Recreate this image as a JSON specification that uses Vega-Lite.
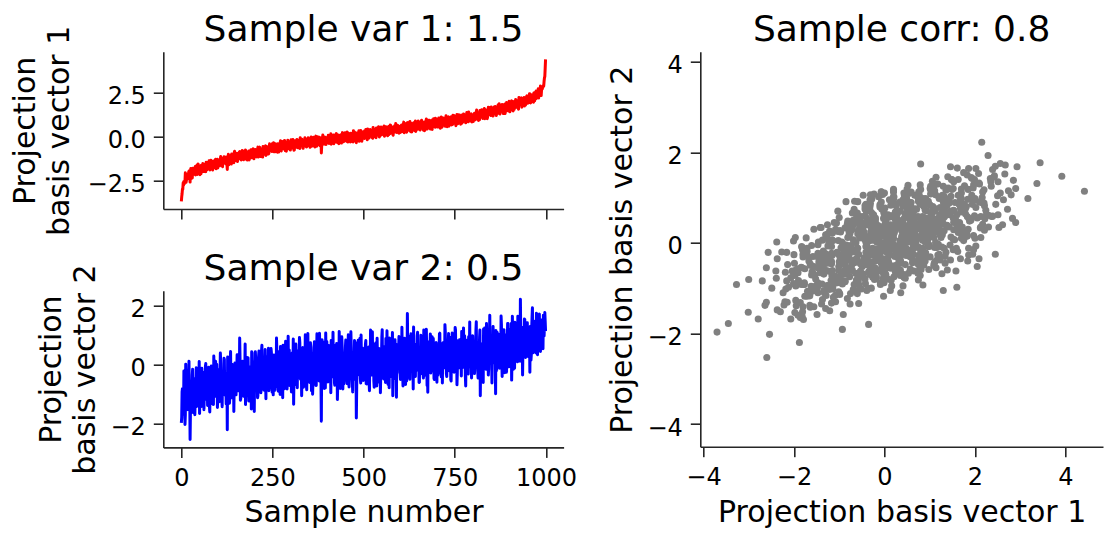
{
"$schema": "https://vega.github.io/schema/vega-lite/v6.json",
"autosize": {"type": "none"},
"padding": {"left": 163.3, "top": 51.7, "right": 952.7, "bottom": 487.3},
"background": "white",
"data": {"values": [
{"i":0,"a":-3.70,"b":-1.97},{"i":1,"a":-3.45,"b":-1.78},{"i":2,"a":-3.27,"b":-0.92},{"i":3,"a":-3.00,"b":-0.81},{"i":4,"a":-3.01,"b":-1.53},{"i":5,"a":-2.64,"b":-1.38},{"i":6,"a":-2.79,"b":-1.68},{"i":8,"a":-2.70,"b":-0.84},{"i":10,"a":-2.54,"b":-2.02},{"i":12,"a":-2.38,"b":0.02},{"i":14,"a":-2.49,"b":-1.00},{"i":16,"a":-2.27,"b":-0.20},{"i":18,"a":-2.30,"b":-1.52},
{"i":20,"a":-2.04,"b":-0.62},{"i":22,"a":-2.37,"b":-1.48},{"i":24,"a":-2.60,"b":-2.53},{"i":26,"a":-1.82,"b":-0.55},{"i":28,"a":-2.20,"b":-1.30},{"i":30,"a":-2.37,"b":-0.35},{"i":32,"a":-1.82,"b":-1.62},{"i":34,"a":-1.96,"b":-0.95},{"i":36,"a":-2.14,"b":-0.48},{"i":38,"a":-1.71,"b":-1.18},
{"i":40,"a":-1.98,"b":-0.72},{"i":42,"a":-1.80,"b":-1.41},{"i":44,"a":-2.16,"b":-0.21},{"i":46,"a":-1.56,"b":-1.05},{"i":48,"a":-1.96,"b":-0.60},{"i":50,"a":-1.86,"b":-1.65},{"i":52,"a":-1.67,"b":-0.33},{"i":54,"a":-2.12,"b":-0.98},{"i":56,"a":-1.71,"b":-0.12},{"i":58,"a":-1.96,"b":-1.27},
{"i":60,"a":-1.56,"b":-0.70},{"i":62,"a":-1.81,"b":-1.52},{"i":64,"a":-1.99,"b":-0.45},{"i":66,"a":-1.61,"b":-0.06},{"i":68,"a":-1.47,"b":-1.10},{"i":70,"a":-1.90,"b":-0.83},{"i":72,"a":-1.65,"b":-1.38},{"i":74,"a":-1.80,"b":-0.25},{"i":76,"a":-1.38,"b":-0.91},{"i":78,"a":-1.91,"b":-1.60},
{"i":80,"a":-1.63,"b":-0.50},{"i":82,"a":-1.47,"b":-0.04},{"i":84,"a":-1.76,"b":-1.18},{"i":86,"a":-1.91,"b":-0.66},{"i":88,"a":-1.39,"b":-1.35},{"i":90,"a":-1.49,"b":-0.30},{"i":92,"a":-1.77,"b":-0.88},{"i":94,"a":-1.29,"b":0.12},{"i":96,"a":-1.60,"b":-1.07},{"i":98,"a":-1.48,"b":-0.55},
{"i":100,"a":-1.79,"b":-0.92},{"i":102,"a":-1.35,"b":-0.18},{"i":104,"a":-1.37,"b":-1.25},{"i":106,"a":-1.64,"b":-0.47},{"i":108,"a":-1.14,"b":0.05},{"i":110,"a":-1.52,"b":-0.80},{"i":112,"a":-1.64,"b":-1.42},{"i":114,"a":-1.23,"b":-0.35},{"i":116,"a":-1.42,"b":-0.66},{"i":118,"a":-1.30,"b":0.18},
{"i":120,"a":-1.22,"b":-1.03},{"i":122,"a":-1.56,"b":-0.52},{"i":124,"a":-1.26,"b":-0.94},{"i":126,"a":-1.88,"b":-2.20},{"i":128,"a":-1.43,"b":-0.28},{"i":130,"a":-1.61,"b":-0.71},{"i":132,"a":-1.08,"b":-1.30},{"i":134,"a":-1.23,"b":0.02},{"i":136,"a":-1.42,"b":-0.60},{"i":138,"a":-0.99,"b":-1.12},
{"i":140,"a":-1.27,"b":-0.40},{"i":142,"a":-1.08,"b":-0.85},{"i":144,"a":-1.49,"b":-1.58},{"i":146,"a":-0.84,"b":-0.15},{"i":148,"a":-1.25,"b":-0.62},{"i":150,"a":-1.14,"b":-1.02},{"i":152,"a":-0.95,"b":-0.30},{"i":154,"a":-1.42,"b":0.34},{"i":156,"a":-1.01,"b":-0.77},{"i":158,"a":-1.26,"b":-0.45},
{"i":160,"a":-0.85,"b":0.91},{"i":162,"a":-1.13,"b":-1.20},{"i":164,"a":-1.33,"b":-0.38},{"i":166,"a":-0.95,"b":-0.70},{"i":168,"a":-0.81,"b":0.12},{"i":170,"a":-1.26,"b":-0.95},{"i":172,"a":-1.01,"b":-0.52},{"i":174,"a":-1.17,"b":-0.23},{"i":176,"a":-0.76,"b":-1.35},{"i":178,"a":-1.29,"b":-0.61},
{"i":180,"a":-1.03,"b":0.25},{"i":182,"a":-0.87,"b":-0.84},{"i":184,"a":-1.17,"b":-0.41},{"i":186,"a":-1.33,"b":-1.10},{"i":188,"a":-0.81,"b":-0.17},{"i":190,"a":-0.93,"b":-0.66},{"i":192,"a":-1.21,"b":-1.50},{"i":194,"a":-0.74,"b":0.40},{"i":196,"a":-1.06,"b":-0.88},{"i":198,"a":-0.94,"b":-0.35},
{"i":200,"a":-0.91,"b":-1.58},{"i":202,"a":-1.00,"b":-0.42},{"i":204,"a":-0.78,"b":0.15},{"i":206,"a":-1.16,"b":-0.73},{"i":208,"a":-1.02,"b":-0.25},{"i":210,"a":-0.60,"b":-1.05},{"i":212,"a":-1.08,"b":0.30},{"i":214,"a":-0.78,"b":-0.55},{"i":216,"a":-0.73,"b":-0.12},{"i":218,"a":-1.14,"b":-0.95},
{"i":220,"a":-0.81,"b":0.48},{"i":222,"a":-0.90,"b":-0.36},{"i":224,"a":-0.57,"b":-0.78},{"i":226,"a":-1.02,"b":0.05},{"i":228,"a":-0.71,"b":-0.60},{"i":230,"a":-0.58,"b":0.52},{"i":232,"a":-1.08,"b":-1.15},{"i":234,"a":-0.90,"b":-0.20},{"i":236,"a":-0.58,"b":0.28},{"i":238,"a":-0.72,"b":-0.48},
{"i":240,"a":-0.96,"b":-0.88},{"i":242,"a":-0.41,"b":0.10},{"i":244,"a":-0.81,"b":-0.30},{"i":246,"a":-0.62,"b":0.55},{"i":248,"a":-0.85,"b":-0.68},{"i":250,"a":-0.39,"b":-0.05},{"i":252,"a":-0.51,"b":-1.02},{"i":254,"a":-0.87,"b":0.33},{"i":256,"a":-0.67,"b":-0.44},{"i":258,"a":-0.40,"b":0.02},
{"i":260,"a":-0.77,"b":-0.75},{"i":262,"a":-0.50,"b":0.45},{"i":264,"a":-0.89,"b":-0.18},{"i":266,"a":-0.42,"b":-0.90},{"i":268,"a":-0.59,"b":0.20},{"i":270,"a":-0.67,"b":-0.38},{"i":272,"a":-0.24,"b":0.62},{"i":274,"a":-0.82,"b":-0.65},{"i":276,"a":-0.44,"b":0.08},{"i":278,"a":-0.60,"b":-1.12},
{"i":280,"a":-0.30,"b":-0.27},{"i":282,"a":-0.70,"b":0.38},{"i":284,"a":-0.49,"b":-0.50},{"i":286,"a":-0.32,"b":0.80},{"i":288,"a":-0.83,"b":-0.15},{"i":290,"a":-0.62,"b":-0.82},{"i":292,"a":-0.20,"b":0.15},{"i":294,"a":-0.40,"b":-0.40},{"i":296,"a":-0.69,"b":0.50},{"i":298,"a":-0.32,"b":-0.60},
{"i":300,"a":-0.32,"b":0.05},{"i":302,"a":-0.67,"b":-0.92},{"i":304,"a":-0.38,"b":0.40},{"i":306,"a":-0.16,"b":-0.30},{"i":308,"a":-0.57,"b":-1.34},{"i":310,"a":-0.76,"b":0.22},{"i":312,"a":-0.24,"b":-0.55},{"i":314,"a":-0.40,"b":0.70},{"i":316,"a":-0.60,"b":-0.12},{"i":318,"a":-0.18,"b":-0.78},
{"i":320,"a":-0.47,"b":0.35},{"i":322,"a":-0.29,"b":-0.25},{"i":324,"a":-0.66,"b":0.92},{"i":326,"a":-0.07,"b":-0.45},{"i":328,"a":-0.48,"b":0.12},{"i":330,"a":-0.39,"b":-1.05},{"i":332,"a":-0.20,"b":0.55},{"i":334,"a":-0.67,"b":-0.20},{"i":336,"a":-0.26,"b":0.30},{"i":338,"a":-0.52,"b":-0.68},
{"i":340,"a":-0.13,"b":1.02},{"i":342,"a":-0.38,"b":-0.10},{"i":344,"a":-0.58,"b":-0.85},{"i":346,"a":-0.20,"b":0.45},{"i":348,"a":-0.07,"b":-0.35},{"i":350,"a":-0.51,"b":0.18},{"i":352,"a":-0.27,"b":-0.60},{"i":354,"a":-0.43,"b":0.75},{"i":356,"a":-0.02,"b":-0.18},{"i":358,"a":-0.55,"b":0.38},
{"i":360,"a":-0.29,"b":-1.00},{"i":362,"a":-0.13,"b":0.08},{"i":364,"a":-0.43,"b":0.60},{"i":366,"a":-0.59,"b":-0.42},{"i":368,"a":-0.07,"b":0.25},{"i":370,"a":-0.19,"b":-0.70},{"i":372,"a":-0.47,"b":1.05},{"i":374,"a":-0.01,"b":-0.05},{"i":376,"a":-0.32,"b":0.48},{"i":378,"a":-0.21,"b":-0.55},
{"i":380,"a":-0.52,"b":0.15},{"i":382,"a":-0.10,"b":-0.32},{"i":384,"a":-0.93,"b":-1.91},{"i":386,"a":-0.41,"b":0.85},{"i":388,"a":0.09,"b":-0.25},{"i":390,"a":-0.30,"b":0.40},{"i":392,"a":-0.43,"b":-0.80},{"i":394,"a":-0.03,"b":0.22},{"i":396,"a":-0.23,"b":1.08},{"i":398,"a":-0.12,"b":-0.15},
{"i":400,"a":-0.11,"b":0.32},{"i":402,"a":-0.20,"b":-0.58},{"i":404,"a":0.00,"b":0.65},{"i":406,"a":-0.38,"b":-0.22},{"i":408,"a":-0.25,"b":0.10},{"i":410,"a":0.16,"b":-0.95},{"i":412,"a":-0.33,"b":0.48},{"i":414,"a":-0.03,"b":-0.35},{"i":416,"a":0.00,"b":1.10},{"i":418,"a":-0.41,"b":-0.08},
{"i":420,"a":-0.08,"b":-0.62},{"i":422,"a":-0.19,"b":0.28},{"i":424,"a":0.14,"b":-0.15},{"i":426,"a":-0.32,"b":0.72},{"i":428,"a":-0.02,"b":-1.18},{"i":430,"a":0.10,"b":0.05},{"i":432,"a":-0.40,"b":-0.48},{"i":434,"a":-0.24,"b":0.40},{"i":436,"a":0.08,"b":-0.80},{"i":438,"a":-0.07,"b":0.18},
{"i":440,"a":-0.32,"b":0.95},{"i":442,"a":0.23,"b":-0.30},{"i":444,"a":-0.18,"b":0.35},{"i":446,"a":0.00,"b":-0.65},{"i":448,"a":-0.24,"b":0.12},{"i":450,"a":0.22,"b":0.58},{"i":452,"a":0.09,"b":-0.42},{"i":454,"a":-0.27,"b":0.25},{"i":456,"a":-0.07,"b":-0.12},{"i":458,"a":0.20,"b":1.02},
{"i":460,"a":-0.18,"b":-0.75},{"i":462,"a":0.09,"b":0.32},{"i":464,"a":-0.30,"b":-0.25},{"i":466,"a":0.17,"b":0.60},{"i":468,"a":0.00,"b":-0.05},{"i":470,"a":-0.09,"b":-0.92},{"i":472,"a":0.34,"b":0.42},{"i":474,"a":-0.25,"b":0.08},{"i":476,"a":0.14,"b":-0.50},{"i":478,"a":-0.03,"b":0.75},
{"i":480,"a":-0.35,"b":-1.80},{"i":482,"a":-0.14,"b":0.20},{"i":484,"a":0.07,"b":-0.35},{"i":486,"a":0.24,"b":0.52},{"i":488,"a":-0.27,"b":-0.18},{"i":490,"a":-0.07,"b":0.90},{"i":492,"a":0.35,"b":-0.62},{"i":494,"a":0.14,"b":0.15},{"i":496,"a":-0.14,"b":0.38},{"i":498,"a":0.23,"b":-0.28},
{"i":500,"a":0.25,"b":0.45},{"i":502,"a":-0.10,"b":-0.40},{"i":504,"a":0.20,"b":0.10},{"i":506,"a":0.41,"b":0.82},{"i":508,"a":0.01,"b":-0.65},{"i":510,"a":-0.18,"b":0.28},{"i":512,"a":0.35,"b":-0.15},{"i":514,"a":0.18,"b":0.60},{"i":516,"a":-0.01,"b":-0.88},{"i":518,"a":0.41,"b":0.05},
{"i":520,"a":0.13,"b":0.40},{"i":522,"a":0.30,"b":-0.32},{"i":524,"a":-0.07,"b":1.12},{"i":526,"a":0.53,"b":0.15},{"i":528,"a":0.12,"b":-0.55},{"i":530,"a":0.21,"b":0.32},{"i":532,"a":0.40,"b":-0.10},{"i":534,"a":-0.06,"b":0.75},{"i":536,"a":0.35,"b":-0.72},{"i":538,"a":0.09,"b":0.22},
{"i":540,"a":0.48,"b":-0.28},{"i":542,"a":0.23,"b":0.55},{"i":544,"a":0.04,"b":0.02},{"i":546,"a":0.41,"b":-0.95},{"i":548,"a":0.55,"b":0.38},{"i":550,"a":0.11,"b":0.95},{"i":552,"a":0.36,"b":-0.42},{"i":554,"a":0.20,"b":0.18},{"i":556,"a":0.61,"b":-0.15},{"i":558,"a":0.08,"b":0.62},
{"i":560,"a":0.35,"b":-0.60},{"i":562,"a":0.51,"b":0.30},{"i":564,"a":0.20,"b":1.15},{"i":566,"a":0.05,"b":-0.20},{"i":568,"a":0.57,"b":0.45},{"i":570,"a":0.46,"b":-0.78},{"i":572,"a":0.17,"b":0.10},{"i":574,"a":0.64,"b":0.68},{"i":576,"a":0.33,"b":-0.35},{"i":578,"a":0.45,"b":0.25},
{"i":580,"a":0.13,"b":-1.05},{"i":582,"a":0.56,"b":0.40},{"i":584,"a":0.54,"b":0.02},{"i":586,"a":0.26,"b":0.85},{"i":588,"a":0.75,"b":-0.48},{"i":590,"a":0.36,"b":-1.10},{"i":592,"a":0.24,"b":0.30},{"i":594,"a":0.64,"b":-0.12},{"i":596,"a":0.44,"b":0.55},{"i":598,"a":0.55,"b":0.12},
{"i":600,"a":0.56,"b":-0.30},{"i":602,"a":0.47,"b":0.60},{"i":604,"a":0.67,"b":-0.05},{"i":606,"a":0.29,"b":0.38},{"i":608,"a":0.42,"b":-0.72},{"i":610,"a":0.83,"b":0.15},{"i":612,"a":0.34,"b":0.90},{"i":614,"a":0.64,"b":-0.25},{"i":616,"a":0.67,"b":0.45},{"i":618,"a":0.26,"b":-0.55},
{"i":620,"a":0.80,"b":1.74},{"i":622,"a":0.48,"b":0.05},{"i":624,"a":0.81,"b":0.52},{"i":626,"a":0.35,"b":-0.38},{"i":628,"a":0.65,"b":0.28},{"i":630,"a":0.77,"b":1.05},{"i":632,"a":0.27,"b":-0.15},{"i":634,"a":0.43,"b":0.40},{"i":636,"a":0.75,"b":-0.82},{"i":638,"a":0.61,"b":0.18},
{"i":640,"a":0.35,"b":0.70},{"i":642,"a":0.90,"b":-0.40},{"i":644,"a":0.49,"b":0.35},{"i":646,"a":0.67,"b":-0.02},{"i":648,"a":0.43,"b":1.10},{"i":650,"a":0.89,"b":0.22},{"i":652,"a":0.77,"b":-0.60},{"i":654,"a":0.40,"b":0.48},{"i":656,"a":0.61,"b":0.05},{"i":658,"a":0.87,"b":-0.30},
{"i":660,"a":0.50,"b":0.78},{"i":662,"a":0.76,"b":0.12},{"i":664,"a":0.37,"b":-0.45},{"i":666,"a":0.84,"b":0.58},{"i":668,"a":0.67,"b":-0.10},{"i":670,"a":0.59,"b":0.35},{"i":672,"a":1.01,"b":1.20},{"i":674,"a":0.43,"b":-0.70},{"i":676,"a":0.85,"b":-0.93},{"i":678,"a":0.65,"b":0.42},
{"i":680,"a":0.94,"b":0.08},{"i":682,"a":0.54,"b":0.65},{"i":684,"a":0.75,"b":-0.28},{"i":686,"a":0.92,"b":0.30},{"i":688,"a":0.41,"b":0.95},{"i":690,"a":0.61,"b":-0.15},{"i":692,"a":1.03,"b":0.50},{"i":694,"a":0.82,"b":-0.50},{"i":696,"a":0.54,"b":0.22},{"i":698,"a":0.90,"b":0.72},
{"i":700,"a":0.91,"b":0.10},{"i":702,"a":0.56,"b":0.62},{"i":704,"a":0.86,"b":-0.35},{"i":706,"a":1.07,"b":0.40},{"i":708,"a":0.67,"b":1.05},{"i":710,"a":0.48,"b":-0.12},{"i":712,"a":1.01,"b":0.55},{"i":714,"a":0.84,"b":0.20},{"i":716,"a":0.65,"b":-0.62},{"i":718,"a":1.07,"b":0.75},
{"i":720,"a":0.79,"b":0.30},{"i":722,"a":0.96,"b":-0.08},{"i":724,"a":0.59,"b":1.12},{"i":726,"a":1.19,"b":0.45},{"i":728,"a":0.78,"b":-0.40},{"i":730,"a":0.87,"b":0.15},{"i":732,"a":1.06,"b":0.68},{"i":734,"a":0.60,"b":-0.20},{"i":736,"a":1.01,"b":0.38},{"i":738,"a":0.75,"b":0.92},
{"i":740,"a":1.14,"b":-0.55},{"i":742,"a":0.89,"b":0.50},{"i":744,"a":0.70,"b":0.05},{"i":746,"a":1.07,"b":0.80},{"i":748,"a":1.21,"b":-0.25},{"i":750,"a":0.77,"b":0.35},{"i":752,"a":1.02,"b":1.18},{"i":754,"a":0.85,"b":0.12},{"i":756,"a":1.27,"b":-0.68},{"i":758,"a":0.74,"b":0.58},
{"i":760,"a":1.01,"b":0.25},{"i":762,"a":1.16,"b":-0.10},{"i":764,"a":0.86,"b":0.85},{"i":766,"a":0.71,"b":0.42},{"i":768,"a":1.23,"b":-0.38},{"i":770,"a":1.11,"b":0.70},{"i":772,"a":0.83,"b":0.18},{"i":774,"a":1.30,"b":1.25},{"i":776,"a":0.99,"b":-0.05},{"i":778,"a":1.10,"b":0.48},
{"i":780,"a":0.79,"b":-0.72},{"i":782,"a":1.22,"b":0.62},{"i":784,"a":1.20,"b":0.30},{"i":786,"a":0.91,"b":-0.22},{"i":788,"a":1.41,"b":0.95},{"i":790,"a":1.02,"b":0.40},{"i":792,"a":0.90,"b":0.02},{"i":794,"a":1.29,"b":0.78},{"i":796,"a":1.10,"b":-0.45},{"i":798,"a":1.21,"b":0.55},
{"i":800,"a":1.22,"b":0.20},{"i":802,"a":1.13,"b":0.75},{"i":804,"a":1.34,"b":-0.30},{"i":806,"a":0.96,"b":0.50},{"i":808,"a":1.11,"b":1.15},{"i":810,"a":1.52,"b":0.08},{"i":812,"a":1.04,"b":0.62},{"i":814,"a":1.34,"b":-0.45},{"i":816,"a":1.38,"b":0.38},{"i":818,"a":0.97,"b":0.92},
{"i":820,"a":1.30,"b":-1.05},{"i":822,"a":1.21,"b":0.28},{"i":824,"a":1.54,"b":0.70},{"i":826,"a":1.09,"b":0.12},{"i":828,"a":1.39,"b":-0.60},{"i":830,"a":1.52,"b":0.55},{"i":832,"a":1.02,"b":1.25},{"i":834,"a":1.19,"b":0.35},{"i":836,"a":1.52,"b":-0.15},{"i":838,"a":1.38,"b":0.82},
{"i":840,"a":1.13,"b":0.45},{"i":842,"a":1.68,"b":-0.35},{"i":844,"a":1.28,"b":1.05},{"i":846,"a":1.46,"b":1.68},{"i":848,"a":1.23,"b":0.18},{"i":850,"a":1.69,"b":0.68},{"i":852,"a":1.58,"b":-0.62},{"i":854,"a":1.22,"b":0.40},{"i":856,"a":1.43,"b":0.95},{"i":858,"a":1.70,"b":0.10},
{"i":860,"a":1.33,"b":0.58},{"i":862,"a":1.60,"b":-0.98},{"i":864,"a":1.21,"b":0.32},{"i":866,"a":1.70,"b":1.10},{"i":868,"a":1.53,"b":0.72},{"i":870,"a":1.45,"b":-0.05},{"i":872,"a":1.88,"b":0.48},{"i":874,"a":1.30,"b":0.90},{"i":876,"a":1.69,"b":0.22},{"i":878,"a":1.53,"b":1.35},
{"i":880,"a":1.84,"b":-0.40},{"i":882,"a":1.44,"b":0.62},{"i":884,"a":1.65,"b":0.85},{"i":886,"a":1.83,"b":0.15},{"i":888,"a":1.32,"b":1.02},{"i":890,"a":1.53,"b":0.45},{"i":892,"a":1.95,"b":-0.25},{"i":894,"a":1.76,"b":0.78},{"i":896,"a":1.48,"b":1.40},{"i":898,"a":1.85,"b":0.30},
{"i":900,"a":1.86,"b":0.55},{"i":902,"a":1.52,"b":1.20},{"i":904,"a":1.82,"b":0.20},{"i":906,"a":2.05,"b":-0.52},{"i":908,"a":1.86,"b":1.64},{"i":910,"a":1.47,"b":0.70},{"i":912,"a":2.00,"b":0.98},{"i":914,"a":1.86,"b":-0.12},{"i":916,"a":1.66,"b":0.45},{"i":918,"a":2.09,"b":1.32},
{"i":920,"a":1.81,"b":0.80},{"i":922,"a":2.00,"b":0.10},{"i":924,"a":1.63,"b":1.05},{"i":926,"a":2.24,"b":0.60},{"i":928,"a":1.83,"b":1.50},{"i":930,"a":2.15,"b":2.22},{"i":932,"a":2.13,"b":0.35},{"i":934,"a":1.68,"b":0.95},{"i":936,"a":2.09,"b":-0.35},{"i":938,"a":1.85,"b":1.18},
{"i":940,"a":2.24,"b":0.72},{"i":942,"a":2.08,"b":1.53},{"i":944,"a":1.81,"b":0.25},{"i":946,"a":2.20,"b":0.88},{"i":948,"a":2.34,"b":1.42},{"i":950,"a":1.91,"b":0.50},{"i":952,"a":2.17,"b":1.12},{"i":954,"a":2.02,"b":0.78},{"i":956,"a":2.45,"b":-0.25},{"i":958,"a":1.93,"b":1.05},
{"i":960,"a":2.30,"b":0.35},{"i":962,"a":2.39,"b":1.62},{"i":964,"a":2.10,"b":0.90},{"i":966,"a":1.97,"b":1.28},{"i":968,"a":2.51,"b":0.62},{"i":970,"a":2.42,"b":1.45},{"i":972,"a":2.16,"b":1.00},{"i":974,"a":2.56,"b":1.75},{"i":976,"a":2.37,"b":0.58},{"i":978,"a":2.51,"b":1.35},
{"i":980,"a":2.21,"b":0.82},{"i":982,"a":2.67,"b":1.72},{"i":984,"a":2.56,"b":1.10},{"i":986,"a":2.63,"b":0.95},{"i":988,"a":2.66,"b":1.52},{"i":990,"a":2.72,"b":0.74},{"i":991,"a":2.85,"b":1.38},{"i":992,"a":2.83,"b":0.54},{"i":993,"a":2.93,"b":1.68},{"i":994,"a":2.90,"b":1.20},
{"i":995,"a":3.17,"b":0.98},{"i":996,"a":3.37,"b":1.31},{"i":997,"a":3.44,"b":1.77},{"i":998,"a":3.92,"b":1.47},{"i":999,"a":4.42,"b":1.14},
{"i":7,"a":-2.57,"b":-0.21},{"i":9,"a":-2.61,"b":-1.31},{"i":11,"a":-2.07,"b":-1.68},{"i":13,"a":-2.61,"b":-0.55},{"i":15,"a":-2.16,"b":-0.84},{"i":17,"a":-2.22,"b":-1.37},{"i":19,"a":-2.39,"b":-0.78},
{"i":21,"a":-1.97,"b":0.12},{"i":23,"a":-2.24,"b":-1.10},{"i":25,"a":-1.98,"b":-1.54},{"i":27,"a":-2.40,"b":-0.62},{"i":29,"a":-2.01,"b":-0.90},{"i":31,"a":-1.81,"b":-0.15},{"i":33,"a":-2.15,"b":-1.31},{"i":35,"a":-2.01,"b":-0.69},{"i":37,"a":-1.79,"b":-1.69},{"i":39,"a":-2.19,"b":-0.65},
{"i":41,"a":-1.82,"b":-0.10},{"i":43,"a":-1.62,"b":-0.96},{"i":45,"a":-2.07,"b":-0.77},{"i":47,"a":-1.95,"b":-1.39},{"i":49,"a":-1.73,"b":0.11},{"i":51,"a":-2.18,"b":-1.02},{"i":53,"a":-1.80,"b":-0.31},{"i":55,"a":-1.63,"b":-1.41},{"i":57,"a":-1.92,"b":-0.57},{"i":59,"a":-1.54,"b":-1.00},
{"i":61,"a":-2.00,"b":-0.26},{"i":63,"a":-1.77,"b":-0.92},{"i":65,"a":-1.60,"b":-0.64},{"i":67,"a":-2.01,"b":0.04},{"i":69,"a":-1.65,"b":-1.17},{"i":71,"a":-1.76,"b":-0.57},{"i":73,"a":-1.47,"b":-0.88},{"i":75,"a":-1.83,"b":-0.08},{"i":77,"a":-1.56,"b":-1.41},{"i":79,"a":-1.84,"b":-0.54},
{"i":81,"a":-1.35,"b":-0.63},{"i":83,"a":-1.71,"b":-0.19},{"i":85,"a":-1.86,"b":-1.32},{"i":87,"a":-1.47,"b":-0.23},{"i":89,"a":-1.56,"b":0.30},{"i":91,"a":-1.70,"b":-1.07},{"i":93,"a":-1.37,"b":-0.42},{"i":95,"a":-1.84,"b":-0.92},{"i":97,"a":-1.46,"b":0.02},{"i":99,"a":-1.30,"b":-1.45},
{"i":101,"a":-1.39,"b":-0.45},{"i":103,"a":-1.48,"b":-0.98},{"i":105,"a":-1.67,"b":-0.40},{"i":107,"a":-1.26,"b":0.40},{"i":109,"a":-1.54,"b":-0.72},{"i":111,"a":-1.29,"b":-1.16},{"i":113,"a":-1.72,"b":-0.25},{"i":115,"a":-1.35,"b":-0.53},{"i":117,"a":-1.15,"b":0.22},{"i":119,"a":-1.51,"b":-0.94},
{"i":121,"a":-1.38,"b":-0.33},{"i":123,"a":-1.17,"b":-1.33},{"i":125,"a":-1.58,"b":-0.30},{"i":127,"a":-1.21,"b":0.26},{"i":129,"a":-1.01,"b":-0.61},{"i":131,"a":-1.45,"b":-0.42},{"i":133,"a":-1.34,"b":-1.05},{"i":135,"a":-1.11,"b":0.45},{"i":137,"a":-1.57,"b":-0.68},{"i":139,"a":-1.18,"b":0.02},
{"i":141,"a":-1.01,"b":-1.08},{"i":143,"a":-1.30,"b":-0.24},{"i":145,"a":-0.92,"b":-0.68},{"i":147,"a":-1.37,"b":0.06},{"i":149,"a":-1.15,"b":-0.61},{"i":151,"a":-0.98,"b":-0.33},{"i":153,"a":-1.40,"b":0.34},{"i":155,"a":-1.04,"b":-0.88},{"i":157,"a":-1.16,"b":-0.28},{"i":159,"a":-0.88,"b":-0.60},
{"i":161,"a":-1.25,"b":0.20},{"i":163,"a":-0.99,"b":-1.14},{"i":165,"a":-1.28,"b":-0.27},{"i":167,"a":-0.79,"b":-0.37},{"i":169,"a":-1.16,"b":0.07},{"i":171,"a":-1.32,"b":-1.07},{"i":173,"a":-0.94,"b":0.02},{"i":175,"a":-1.03,"b":0.70},{"i":177,"a":-1.18,"b":-0.83},{"i":179,"a":-0.86,"b":-0.19},
{"i":181,"a":-1.34,"b":-0.69},{"i":183,"a":-0.97,"b":0.24},{"i":185,"a":-0.82,"b":-1.23},{"i":187,"a":-1.25,"b":-0.07},{"i":189,"a":-0.93,"b":-0.91},{"i":191,"a":-0.75,"b":-0.10},{"i":193,"a":-1.06,"b":0.44},{"i":195,"a":-1.17,"b":-0.66},{"i":197,"a":-0.69,"b":-1.03},{"i":199,"a":-1.27,"b":0.10},
{"i":201,"a":-0.92,"b":-0.32},{"i":203,"a":-0.73,"b":0.44},{"i":205,"a":-1.09,"b":-0.73},{"i":207,"a":-0.96,"b":-0.11},{"i":209,"a":-0.75,"b":-1.12},{"i":211,"a":-1.17,"b":-0.08},{"i":213,"a":-0.80,"b":0.47},{"i":215,"a":-0.60,"b":-0.39},{"i":217,"a":-1.05,"b":-0.21},{"i":219,"a":-0.93,"b":-0.83},
{"i":221,"a":-0.71,"b":0.66},{"i":223,"a":-1.17,"b":-0.46},{"i":225,"a":-0.78,"b":0.23},{"i":227,"a":-0.61,"b":-0.86},{"i":229,"a":-0.91,"b":-0.03},{"i":231,"a":-0.53,"b":-0.46},{"i":233,"a":-0.98,"b":0.27},{"i":235,"a":-0.76,"b":-0.39},{"i":237,"a":-0.59,"b":-0.12},{"i":239,"a":-1.00,"b":0.56},
{"i":241,"a":-0.64,"b":-0.67},{"i":243,"a":-0.75,"b":-0.06},{"i":245,"a":-0.46,"b":-0.39},{"i":247,"a":-0.82,"b":0.42},{"i":249,"a":-0.56,"b":-0.93},{"i":251,"a":-0.84,"b":-0.05},{"i":253,"a":-0.35,"b":-0.16},{"i":255,"a":-0.72,"b":0.29},{"i":257,"a":-0.87,"b":-0.86},{"i":259,"a":-0.49,"b":0.24},
{"i":261,"a":-0.59,"b":0.91},{"i":263,"a":-0.73,"b":-0.61},{"i":265,"a":-0.41,"b":0.02},{"i":267,"a":-0.88,"b":-0.47},{"i":269,"a":-0.52,"b":0.45},{"i":271,"a":-0.36,"b":-1.01},{"i":273,"a":-0.79,"b":0.14},{"i":275,"a":-0.47,"b":-0.69},{"i":277,"a":-0.28,"b":0.11},{"i":279,"a":-0.60,"b":0.66},
{"i":281,"a":-0.70,"b":-0.45},{"i":283,"a":-0.22,"b":-0.81},{"i":285,"a":-0.80,"b":0.31},{"i":287,"a":-0.39,"b":0.02},{"i":289,"a":-0.49,"b":-0.52},{"i":291,"a":-0.69,"b":0.07},{"i":293,"a":-0.28,"b":0.97},{"i":295,"a":-0.57,"b":-0.25},{"i":297,"a":-0.33,"b":-0.70},{"i":299,"a":-0.77,"b":0.22},
{"i":301,"a":-0.18,"b":-0.18},{"i":303,"a":-0.63,"b":0.00},{"i":305,"a":-0.53,"b":-0.62},{"i":307,"a":-0.31,"b":0.87},{"i":309,"a":-0.78,"b":-0.26},{"i":311,"a":-0.40,"b":0.43},{"i":313,"a":-0.23,"b":-0.67},{"i":315,"a":-0.54,"b":0.17},{"i":317,"a":-0.16,"b":-0.27},{"i":319,"a":-0.63,"b":0.46},
{"i":321,"a":-0.41,"b":-0.21},{"i":323,"a":-0.25,"b":0.06},{"i":325,"a":-0.67,"b":0.74},{"i":327,"a":-0.32,"b":-0.49},{"i":329,"a":-0.43,"b":0.11},{"i":331,"a":-0.15,"b":-0.22},{"i":333,"a":-0.52,"b":0.58},{"i":335,"a":-0.26,"b":-0.76},{"i":337,"a":-0.55,"b":0.11},{"i":339,"a":-0.06,"b":0.00},
{"i":341,"a":-0.44,"b":0.44},{"i":343,"a":-0.59,"b":-0.71},{"i":345,"a":-0.22,"b":0.39},{"i":347,"a":-0.31,"b":1.06},{"i":349,"a":-0.46,"b":-0.47},{"i":351,"a":-0.14,"b":0.16},{"i":353,"a":-0.61,"b":-0.34},{"i":355,"a":-0.25,"b":0.59},{"i":357,"a":-0.09,"b":-0.88},{"i":359,"a":-0.53,"b":0.27},
{"i":361,"a":-0.21,"b":-0.57},{"i":363,"a":-0.03,"b":0.23},{"i":365,"a":-0.34,"b":0.78},{"i":367,"a":-0.45,"b":-0.33},{"i":369,"a":0.03,"b":-0.70},{"i":371,"a":-0.55,"b":0.42},{"i":373,"a":-0.15,"b":0.12},{"i":375,"a":-0.24,"b":-0.41},{"i":377,"a":-0.45,"b":0.17},{"i":379,"a":-0.04,"b":1.07},
{"i":381,"a":-0.34,"b":-0.16},{"i":383,"a":-0.09,"b":-0.61},{"i":385,"a":-0.54,"b":0.31},{"i":387,"a":-0.17,"b":0.02},{"i":389,"a":0.01,"b":0.77},{"i":391,"a":-0.35,"b":-0.40},{"i":393,"a":-0.23,"b":0.21},{"i":395,"a":-0.03,"b":-0.79},{"i":397,"a":-0.45,"b":0.24},{"i":399,"a":-0.10,"b":0.79},
{"i":401,"a":-0.30,"b":0.25},{"i":403,"a":0.08,"b":-0.19},{"i":405,"a":-0.39,"b":0.54},{"i":407,"a":-0.17,"b":-0.13},{"i":409,"a":-0.01,"b":0.14},{"i":411,"a":-0.43,"b":0.82},{"i":413,"a":-0.07,"b":-0.41},{"i":415,"a":-0.19,"b":0.19},{"i":417,"a":0.09,"b":-0.14},{"i":419,"a":-0.28,"b":0.66},
{"i":421,"a":-0.02,"b":-0.69},{"i":423,"a":-0.31,"b":0.18},{"i":425,"a":0.18,"b":0.07},{"i":427,"a":-0.20,"b":0.51},{"i":429,"a":-0.35,"b":-0.64},{"i":431,"a":0.03,"b":0.46},{"i":433,"a":-0.07,"b":1.13},{"i":435,"a":-0.21,"b":-0.40},{"i":437,"a":0.10,"b":0.23},{"i":439,"a":-0.37,"b":-0.27},
{"i":441,"a":-0.01,"b":0.65},{"i":443,"a":0.15,"b":-0.82},{"i":445,"a":-0.29,"b":0.33},{"i":447,"a":0.03,"b":-0.51},{"i":449,"a":0.22,"b":0.29},{"i":451,"a":-0.10,"b":0.84},{"i":453,"a":-0.20,"b":-0.27},{"i":455,"a":0.27,"b":-0.64},{"i":457,"a":-0.31,"b":0.48},{"i":459,"a":0.09,"b":0.18},
{"i":461,"a":0.00,"b":-0.36},{"i":463,"a":-0.21,"b":0.22},{"i":465,"a":0.20,"b":1.12},{"i":467,"a":-0.10,"b":-0.11},{"i":469,"a":0.15,"b":-0.56},{"i":471,"a":-0.30,"b":0.36},{"i":473,"a":0.07,"b":0.07},{"i":475,"a":0.26,"b":0.82},{"i":477,"a":-0.11,"b":-0.35},{"i":479,"a":0.01,"b":0.26},
{"i":481,"a":0.21,"b":-0.75},{"i":483,"a":-0.21,"b":0.28},{"i":485,"a":0.14,"b":0.83},{"i":487,"a":0.34,"b":-0.04},{"i":489,"a":-0.12,"b":0.14},{"i":491,"a":-0.01,"b":-0.48},{"i":493,"a":0.21,"b":1.01},{"i":495,"a":-0.26,"b":-0.12},{"i":497,"a":0.12,"b":0.57},{"i":499,"a":0.28,"b":-0.53},
{"i":501,"a":0.06,"b":0.23},{"i":503,"a":0.34,"b":-0.10},{"i":505,"a":-0.02,"b":0.71},{"i":507,"a":0.24,"b":-0.64},{"i":509,"a":-0.05,"b":0.23},{"i":511,"a":0.44,"b":0.12},{"i":513,"a":0.07,"b":0.56},{"i":515,"a":-0.08,"b":-0.58},{"i":517,"a":0.29,"b":0.51},{"i":519,"a":0.20,"b":1.18},
{"i":521,"a":0.06,"b":-0.35},{"i":523,"a":0.38,"b":0.28},{"i":525,"a":-0.09,"b":-0.21},{"i":527,"a":0.27,"b":0.71},{"i":529,"a":0.43,"b":-0.76},{"i":531,"a":0.00,"b":0.39},{"i":533,"a":0.32,"b":-0.45},{"i":535,"a":0.50,"b":0.36},{"i":537,"a":0.19,"b":0.90},{"i":539,"a":0.09,"b":-0.21},
{"i":541,"a":0.57,"b":-0.58},{"i":543,"a":-0.02,"b":0.54},{"i":545,"a":0.39,"b":0.25},{"i":547,"a":0.30,"b":-0.29},{"i":549,"a":0.10,"b":0.29},{"i":551,"a":0.50,"b":1.19},{"i":553,"a":0.21,"b":-0.04},{"i":555,"a":0.46,"b":-0.48},{"i":557,"a":0.02,"b":0.43},{"i":559,"a":0.38,"b":0.14},
{"i":561,"a":0.57,"b":0.89},{"i":563,"a":0.21,"b":-0.28},{"i":565,"a":0.33,"b":0.34},{"i":567,"a":0.53,"b":-0.67},{"i":569,"a":0.11,"b":0.36},{"i":571,"a":0.47,"b":0.91},{"i":573,"a":0.67,"b":0.04},{"i":575,"a":0.22,"b":0.23},{"i":577,"a":0.32,"b":-0.40},{"i":579,"a":0.54,"b":1.09},
{"i":581,"a":0.08,"b":-0.04},{"i":583,"a":0.46,"b":0.65},{"i":585,"a":0.62,"b":-0.44},{"i":587,"a":0.32,"b":0.39},{"i":589,"a":0.70,"b":-0.05},{"i":591,"a":0.24,"b":0.68},{"i":593,"a":0.45,"b":0.01},{"i":595,"a":0.62,"b":0.29},{"i":597,"a":0.20,"b":0.96},{"i":599,"a":0.56,"b":-0.27},
{"i":601,"a":0.24,"b":-0.50},{"i":603,"a":0.62,"b":0.59},{"i":605,"a":0.52,"b":1.27},{"i":607,"a":0.38,"b":-0.26},{"i":609,"a":0.70,"b":0.37},{"i":611,"a":0.22,"b":-0.13},{"i":613,"a":0.59,"b":0.79},{"i":615,"a":0.74,"b":-0.67},{"i":617,"a":0.31,"b":0.48},{"i":619,"a":0.62,"b":-0.36},
{"i":621,"a":0.81,"b":0.44},{"i":623,"a":0.49,"b":0.98},{"i":625,"a":0.39,"b":-0.12},{"i":627,"a":0.87,"b":-0.49},{"i":629,"a":0.28,"b":0.63},{"i":631,"a":0.69,"b":0.33},{"i":633,"a":0.59,"b":-0.21},{"i":635,"a":0.39,"b":0.38},{"i":637,"a":0.79,"b":1.28},{"i":639,"a":0.50,"b":0.05},
{"i":641,"a":0.74,"b":-0.40},{"i":643,"a":0.30,"b":0.51},{"i":645,"a":0.67,"b":0.23},{"i":647,"a":0.85,"b":0.98},{"i":649,"a":0.49,"b":-0.19},{"i":651,"a":0.60,"b":0.42},{"i":653,"a":0.81,"b":-0.59},{"i":655,"a":0.38,"b":0.45},{"i":657,"a":0.74,"b":1.00},{"i":659,"a":0.94,"b":0.13},
{"i":661,"a":0.48,"b":0.31},{"i":663,"a":0.59,"b":-0.32},{"i":665,"a":0.80,"b":1.18},{"i":667,"a":0.34,"b":0.05},{"i":669,"a":0.71,"b":0.74},{"i":671,"a":0.88,"b":-0.36},{"i":673,"a":0.57,"b":0.47},{"i":675,"a":0.95,"b":0.04},{"i":677,"a":0.49,"b":0.77},{"i":679,"a":0.70,"b":0.10},
{"i":681,"a":0.87,"b":0.37},{"i":683,"a":0.44,"b":1.04},{"i":685,"a":0.80,"b":-0.18},{"i":687,"a":0.68,"b":0.42},{"i":689,"a":0.96,"b":0.09},{"i":691,"a":0.59,"b":0.89},{"i":693,"a":0.85,"b":-0.46},{"i":695,"a":0.57,"b":0.42},{"i":697,"a":1.05,"b":0.31},{"i":699,"a":0.68,"b":0.75},
{"i":701,"a":0.98,"b":-0.59},{"i":703,"a":0.55,"b":0.56},{"i":705,"a":0.87,"b":-0.27},{"i":707,"a":1.06,"b":0.53},{"i":709,"a":0.74,"b":1.07},{"i":711,"a":0.64,"b":-0.04},{"i":713,"a":1.12,"b":-0.41},{"i":715,"a":0.54,"b":0.72},{"i":717,"a":0.94,"b":0.42},{"i":719,"a":0.85,"b":-0.12},
{"i":721,"a":0.65,"b":0.46},{"i":723,"a":1.06,"b":1.36},{"i":725,"a":0.77,"b":0.14},{"i":727,"a":1.01,"b":-0.31},{"i":729,"a":0.57,"b":0.60},{"i":731,"a":0.94,"b":0.31},{"i":733,"a":1.13,"b":1.06},{"i":735,"a":0.76,"b":-0.10},{"i":737,"a":0.88,"b":0.51},{"i":739,"a":1.09,"b":-0.50},
{"i":741,"a":0.67,"b":0.53},{"i":743,"a":1.02,"b":1.08},{"i":745,"a":1.22,"b":0.22},{"i":747,"a":0.77,"b":0.40},{"i":749,"a":0.88,"b":-0.23},{"i":751,"a":1.10,"b":1.26},{"i":753,"a":0.63,"b":0.13},{"i":755,"a":1.01,"b":0.83},{"i":757,"a":1.18,"b":-0.27},{"i":759,"a":0.88,"b":0.56},
{"i":761,"a":1.25,"b":0.12},{"i":763,"a":0.79,"b":0.85},{"i":765,"a":1.01,"b":0.19},{"i":767,"a":1.18,"b":0.46},{"i":769,"a":0.76,"b":1.13},{"i":771,"a":1.11,"b":-0.10},{"i":773,"a":1.00,"b":0.50},{"i":775,"a":1.28,"b":0.18},{"i":777,"a":0.91,"b":0.98},{"i":779,"a":1.17,"b":-0.37},
{"i":781,"a":0.89,"b":0.50},{"i":783,"a":1.38,"b":0.39},{"i":785,"a":1.00,"b":0.84},{"i":787,"a":0.85,"b":-0.31},{"i":789,"a":1.23,"b":0.78},{"i":791,"a":1.14,"b":1.45},{"i":793,"a":0.99,"b":-0.08},{"i":795,"a":1.31,"b":0.56},{"i":797,"a":0.84,"b":0.06},{"i":799,"a":1.21,"b":0.98},
{"i":801,"a":0.87,"b":0.80},{"i":803,"a":1.28,"b":0.51},{"i":805,"a":1.19,"b":-0.03},{"i":807,"a":0.99,"b":0.56},{"i":809,"a":1.40,"b":1.46},{"i":811,"a":1.11,"b":0.24},{"i":813,"a":1.36,"b":-0.21},{"i":815,"a":0.93,"b":0.71},{"i":817,"a":1.30,"b":0.42},{"i":819,"a":1.49,"b":1.18},
{"i":821,"a":1.13,"b":0.01},{"i":823,"a":1.25,"b":0.63},{"i":825,"a":1.46,"b":-0.38},{"i":827,"a":1.04,"b":0.66},{"i":829,"a":1.41,"b":1.21},{"i":831,"a":1.61,"b":0.35},{"i":833,"a":1.16,"b":0.53},{"i":835,"a":1.27,"b":-0.09},{"i":837,"a":1.49,"b":1.40},{"i":839,"a":1.03,"b":0.28},
{"i":841,"a":1.41,"b":0.97},{"i":843,"a":1.59,"b":-0.12},{"i":845,"a":1.29,"b":0.71},{"i":847,"a":1.67,"b":0.28},{"i":849,"a":1.21,"b":1.01},{"i":851,"a":1.43,"b":0.35},{"i":853,"a":1.60,"b":0.62},{"i":855,"a":1.18,"b":1.30},{"i":857,"a":1.55,"b":0.07},{"i":859,"a":1.44,"b":0.68},
{"i":861,"a":1.72,"b":0.35},{"i":863,"a":1.36,"b":1.16},{"i":865,"a":1.62,"b":-0.19},{"i":867,"a":1.34,"b":0.69},{"i":869,"a":1.83,"b":0.58},{"i":871,"a":1.47,"b":1.03},{"i":873,"a":1.32,"b":-0.12},{"i":875,"a":1.70,"b":0.98},{"i":877,"a":1.61,"b":1.65},{"i":879,"a":1.47,"b":0.13},
{"i":881,"a":1.79,"b":0.76},{"i":883,"a":1.32,"b":0.27},{"i":885,"a":1.70,"b":1.19},{"i":887,"a":1.86,"b":-0.27},{"i":889,"a":1.43,"b":0.88},{"i":891,"a":1.75,"b":0.05},{"i":893,"a":1.94,"b":0.85},{"i":895,"a":1.63,"b":1.40},{"i":897,"a":1.53,"b":0.29},{"i":899,"a":2.02,"b":-0.07},
{"i":901,"a":1.42,"b":0.92},{"i":903,"a":1.79,"b":0.64},{"i":905,"a":1.99,"b":1.40},{"i":907,"a":1.63,"b":0.23},{"i":909,"a":1.76,"b":0.85},{"i":911,"a":1.97,"b":-0.15},{"i":913,"a":1.56,"b":0.89},{"i":915,"a":1.92,"b":1.44},{"i":917,"a":2.13,"b":0.58},{"i":919,"a":1.68,"b":0.77},
{"i":921,"a":1.80,"b":0.14},{"i":923,"a":2.02,"b":1.64},{"i":925,"a":1.57,"b":0.52},{"i":927,"a":1.96,"b":1.21},{"i":929,"a":2.13,"b":0.12},{"i":931,"a":1.84,"b":0.96},{"i":933,"a":2.22,"b":0.53},{"i":935,"a":1.77,"b":1.26},{"i":937,"a":1.99,"b":0.60},{"i":939,"a":2.17,"b":0.88},
{"i":941,"a":1.75,"b":1.55},{"i":943,"a":2.12,"b":0.33},{"i":945,"a":2.01,"b":0.94},{"i":947,"a":2.30,"b":0.61},{"i":949,"a":1.94,"b":1.42},{"i":951,"a":2.21,"b":0.28},{"i":953,"a":1.95,"b":0.96},{"i":955,"a":2.46,"b":0.85},{"i":957,"a":2.10,"b":1.30},{"i":959,"a":1.97,"b":0.16},
{"i":961,"a":2.36,"b":1.25},{"i":963,"a":2.29,"b":1.93},{"i":965,"a":2.17,"b":0.41},{"i":967,"a":2.50,"b":1.04},{"i":969,"a":2.05,"b":0.55},{"i":971,"a":2.43,"b":1.48},{"i":973,"a":2.61,"b":0.40},{"i":975,"a":2.20,"b":1.17},{"i":977,"a":2.53,"b":0.34},{"i":979,"a":2.74,"b":1.15},
{"i":981,"a":2.45,"b":1.69},{"i":983,"a":2.39,"b":0.59},{"i":985,"a":2.90,"b":0.45},{"i":987,"a":2.35,"b":1.35},{"i":989,"a":2.80,"b":1.06}
]},
"config": {
  "font": "DejaVu Sans",
  "view": {"stroke": null},
  "axis": {"grid": false, "domainColor": "#262626", "domainWidth": 1.6, "tickColor": "#262626", "tickWidth": 1.6, "tickSize": 10, "labelFont": "DejaVu Sans", "labelFontSize": 24, "labelColor": "black", "titleFont": "DejaVu Sans", "titleFontSize": 30, "titleFontWeight": "normal", "titleColor": "black"},
  "axisX": {"labelPadding": 9, "titlePadding": 7.5, "labelAngle": 0},
  "axisY": {"labelPadding": 8, "titlePadding": 9, "labelOffset": 4},
  "title": {"font": "DejaVu Sans", "fontSize": 36, "fontWeight": "normal", "color": "black", "frame": "group", "baseline": "alphabetic", "anchor": "middle"}
},
"spacing": 30,
"hconcat": [
  {
    "bounds": "flush",
    "spacing": 81,
    "vconcat": [
      {
        "width": 400.3, "height": 157.3,
        "title": {"text": "Sample var 1: 1.5", "offset": -24.3},
        "mark": {"type": "line", "color": "#ff0000", "strokeWidth": 3, "strokeJoin": "round"},
        "encoding": {
          "x": {"field": "i", "type": "quantitative", "scale": {"domain": [-49.5, 1048.5], "nice": false, "zero": false}, "axis": {"values": [0, 250, 500, 750, 1000], "labels": false, "title": null}},
          "y": {"field": "a", "type": "quantitative", "scale": {"domain": [-4.14, 4.86], "nice": false, "zero": false}, "axis": {"values": [-2.5, 0, 2.5], "format": ".1f", "title": ["Projection", "basis vector 1"], "titleLineHeight": 34, "titlePadding": 12.5}}
        }
      },
      {
        "width": 400.3, "height": 156.7,
        "title": {"text": "Sample var 2: 0.5", "offset": -24.5},
        "mark": {"type": "line", "color": "#0000ff", "strokeWidth": 3, "strokeJoin": "round"},
        "encoding": {
          "x": {"field": "i", "type": "quantitative", "scale": {"domain": [-49.5, 1048.5], "nice": false, "zero": false}, "axis": {"values": [0, 250, 500, 750, 1000], "format": "d", "title": "Sample number"}},
          "y": {"field": "b", "type": "quantitative", "scale": {"domain": [-2.80, 2.51], "nice": false, "zero": false}, "axis": {"values": [-2, 0, 2], "format": "d", "title": ["Projection", "basis vector 2"], "titleLineHeight": 34, "titlePadding": 9}}
        }
      }
    ]
  },
  {
    "width": 402.7, "height": 395,
    "title": {"text": "Sample corr: 0.8", "offset": 2.3},
    "mark": {"type": "circle", "color": "#808080", "size": 50, "opacity": 1},
    "encoding": {
      "x": {"field": "a", "type": "quantitative", "scale": {"domain": [-4.07, 4.83], "nice": false, "zero": false}, "axis": {"values": [-4, -2, 0, 2, 4], "format": "d", "title": "Projection basis vector 1"}},
      "y": {"field": "b", "type": "quantitative", "scale": {"domain": [-4.50, 4.22], "nice": false, "zero": false}, "axis": {"values": [-4, -2, 0, 2, 4], "format": "d", "title": "Projection basis vector 2"}}
    }
  }
]
}
